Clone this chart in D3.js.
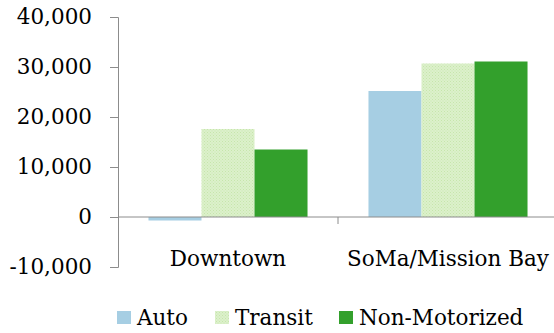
<!DOCTYPE html>
<html><head><meta charset="utf-8">
<script src="https://cdn.jsdelivr.net/npm/d3@7"></script>
<style>body{margin:0;background:#fff}svg{display:block}</style>
</head><body>
<svg id="c" width="554" height="333"></svg>
<script>
const categories = ["Downtown", "SoMa/Mission Bay"];
const seriesNames = ["Auto", "Transit", "Non-Motorized"];
const auto = [-700, 25200];
const transit = [17600, 30700];
const nonMotorized = [13500, 31100];
const yTicks = [-10000, 0, 10000, 20000, 30000, 40000];

const colors = ["#a6cee3", "url(#hatch)", "#33a02c"];
const series = [auto, transit, nonMotorized];

const svg = d3.select("#c");
const defs = svg.append("defs");
const pat = defs.append("pattern").attr("id","hatch").attr("patternUnits","userSpaceOnUse").attr("width",3).attr("height",3);
pat.append("rect").attr("width",3).attr("height",3).attr("fill","#dcf0cb");
pat.append("rect").attr("width",1).attr("height",1).attr("fill","#c6e6ab");
pat.append("rect").attr("x",1.5).attr("y",1.5).attr("width",1).attr("height",1).attr("fill","#c9e8b0");

const font = "DejaVu Serif";
const fs = 21.5;
const x0 = d3.scaleBand().domain(categories).range([118, 558]).paddingInner(0).paddingOuter(0);
const x1 = d3.scaleBand().domain(seriesNames).range([0, x0.bandwidth()]).paddingInner(0).paddingOuter(0.575);
const y = d3.scaleLinear().domain([-10000, 40000]).range([267, 17]);

// bars
categories.forEach((c, ci) => {
  seriesNames.forEach((s, si) => {
    const v = series[si][ci];
    svg.append("rect")
      .attr("x", x0(c) + x1(s))
      .attr("width", x1.bandwidth())
      .attr("y", y(Math.max(0, v)))
      .attr("height", Math.abs(y(v) - y(0)))
      .attr("fill", colors[si]);
  });
});

// y axis
const fmt = d3.format(",");
const yAxis = d3.axisLeft(y).tickValues(yTicks).tickSize(8).tickPadding(18)
  .tickFormat(d => fmt(d).replace("\u2212", "-"));
const ga = svg.append("g").attr("transform", "translate(118,0)").call(yAxis);
ga.select(".domain").attr("stroke", "#8c8c8c");
ga.selectAll(".tick line").attr("stroke", "#8c8c8c");
ga.selectAll("text").attr("font-family", font).attr("font-size", fs).attr("fill", "#000");

// zero baseline & category axis
const gx = svg.append("g").attr("transform", `translate(0,${y(0)})`)
  .call(d3.axisBottom(x0).tickSize(0).tickPadding(34).tickFormat(d => d));
gx.select(".domain").attr("stroke", "#8c8c8c").attr("d", `M118,0H554`);
gx.selectAll("text").attr("font-family", font).attr("font-size", fs).attr("fill", "#000");
// category separators
gx.selectAll(".sep").data([x0("SoMa/Mission Bay")]).enter().append("line")
  .attr("x1", d => d).attr("x2", d => d).attr("y1", 0).attr("y2", 7).attr("stroke", "#8c8c8c");

// legend
const legendX = [117, 215, 339];
const lg = svg.append("g");
seriesNames.forEach((s, i) => {
  lg.append("rect").attr("x", legendX[i]).attr("y", 311).attr("width", 14).attr("height", 13).attr("fill", colors[i]);
  lg.append("text").attr("x", legendX[i] + 20).attr("y", 325)
    .attr("font-family", font).attr("font-size", fs).text(s);
});
</script>
</body></html>
